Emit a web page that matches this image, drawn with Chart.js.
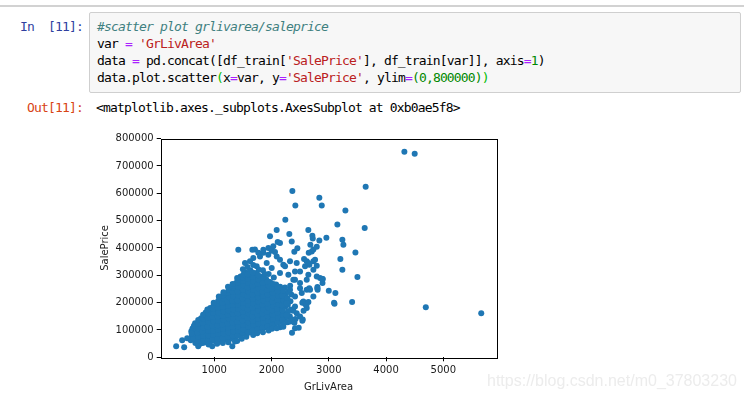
<!DOCTYPE html>
<html>
<head>
<meta charset="utf-8">
<script src="https://cdn.jsdelivr.net/npm/chart.js@4.4.1/dist/chart.umd.min.js"></script>
<style>
  html, body { margin: 0; padding: 0; background: #fff; }
  body { width: 744px; height: 400px; position: relative; overflow: hidden; }
  .rule { position: absolute; left: 0; top: 5px; width: 744px; height: 2px; background: #d2d2d2; }
  .mono { font-family: "DejaVu Sans Mono", monospace; font-size: 13px; letter-spacing: -0.83px; line-height: 17px; white-space: pre; }
  .prompt { position: absolute; left: 10px; width: 73px; text-align: right; }
  .in  { top: 18px; color: #303f9f; }
  .out { top: 99px; color: #d84315; }
  .cell { position: absolute; left: 89px; top: 12px; width: 650px; height: 79px; background: #f7f7f7; border: 1px solid #cfcfcf; border-radius: 2px; }
  .code { position: absolute; left: 97px; top: 18px; color: #000; }
  .result { position: absolute; left: 96px; top: 99px; color: #000; }
  .cm { color: #408080; font-style: italic; }
  .op { color: #aa22ff; }
  .st { color: #ba2121; }
  .nu { color: #008800; }
  .br { color: #00bb00; }
  #plot { position: absolute; left: 95px; top: 128px; width: 420px; height: 270px; }
  .mark { position: absolute; left: 487px; top: 372px; font-family: "Liberation Sans", Arial, sans-serif; font-size: 16px; color: #ececec; z-index: 2; }
</style>
</head>
<body>
<div class="rule"></div>
<div class="mono prompt in">In  [11]:</div>
<div class="cell"></div>
<div class="mono code"><span class="cm">#scatter plot grlivarea/saleprice</span>
var <span class="op">=</span> <span class="st">'GrLivArea'</span>
data <span class="op">=</span> pd.concat([df_train[<span class="st">'SalePrice'</span>], df_train[var]], axis<span class="op">=</span><span class="nu">1</span>)
data.plot.scatter<span class="br">(</span>x<span class="op">=</span>var, y<span class="op">=</span><span class="st">'SalePrice'</span>, ylim<span class="op">=</span><span class="nu">(0,800000)</span><span class="br">)</span></div>
<div class="mono prompt out">Out[11]:</div>
<div class="mono result">&lt;matplotlib.axes._subplots.AxesSubplot at 0xb0ae5f8&gt;</div>
<div id="plot"><canvas id="scatterChart" width="420" height="270"></canvas></div>
<div class="mark">https://blog.csdn.net/m0_37803230</div>

<script>
// ─────────────────────────────────────────────
// DATA  [GrLivArea, SalePrice]
// ─────────────────────────────────────────────
var xTicks = [1000, 2000, 3000, 4000, 5000];
var yTicks = [0, 100000, 200000, 300000, 400000, 500000, 600000, 700000, 800000];

// the solid body of the cloud
var mainCloud = [
    [590,62000],[610,78000],[600,95000],[620,105000],
    [670,52000],[690,68000],[675,85000],[685,101000],[680,117000],[665,125000],
    [750,50000],[770,64000],[760,80000],[745,96000],[765,112000],[755,128000],[770,143000],
    [840,55000],[860,70000],[850,86000],[835,102000],[855,118000],[845,134000],[860,150000],[850,164000],
    [930,58000],[950,73000],[940,89000],[925,105000],[945,121000],[935,137000],[955,152000],[940,167000],[930,180000],
    [1010,60000],[1030,76000],[1020,92000],[1005,108000],[1025,124000],[1015,140000],[1035,155000],[1020,170000],[1010,185000],[1030,196000],
    [1100,62000],[1120,78000],[1110,94000],[1095,110000],[1115,126000],[1105,142000],[1125,158000],[1110,174000],[1100,190000],[1120,205000],[1105,213000],
    [1190,66000],[1210,82000],[1200,98000],[1185,114000],[1205,130000],[1195,146000],[1215,162000],[1200,178000],[1190,194000],[1210,210000],[1195,226000],
    [1280,68000],[1300,85000],[1290,101000],[1275,117000],[1295,133000],[1285,149000],[1305,165000],[1290,181000],[1280,197000],[1300,213000],[1285,229000],[1295,246000],
    [1360,72000],[1380,88000],[1370,104000],[1355,120000],[1375,136000],[1365,152000],[1385,168000],[1370,184000],[1360,200000],[1380,216000],[1365,232000],[1375,248000],[1360,264000],[1380,272000],
    [1450,80000],[1470,95000],[1460,111000],[1445,127000],[1465,143000],[1455,159000],[1475,175000],[1460,191000],[1450,207000],[1470,223000],[1455,239000],[1465,255000],[1450,271000],[1470,285000],[1460,296000],
    [1540,88000],[1560,104000],[1550,120000],[1535,136000],[1555,152000],[1545,168000],[1565,184000],[1550,200000],[1540,216000],[1560,232000],[1545,248000],[1555,264000],[1540,280000],[1560,295000],[1550,310000],
    [1620,95000],[1640,110000],[1630,126000],[1615,142000],[1635,158000],[1625,174000],[1645,190000],[1630,206000],[1620,222000],[1640,238000],[1625,254000],[1635,270000],[1620,286000],[1645,302000],[1630,318000],
    [1710,100000],[1730,116000],[1720,132000],[1705,148000],[1725,164000],[1715,180000],[1735,196000],[1720,212000],[1710,228000],[1730,244000],[1715,260000],[1725,276000],[1710,292000],[1735,308000],
    [1800,104000],[1820,120000],[1810,136000],[1795,152000],[1815,168000],[1805,184000],[1825,200000],[1810,216000],[1800,232000],[1820,248000],[1805,264000],[1815,280000],[1800,296000],
    [1890,110000],[1910,126000],[1900,142000],[1885,158000],[1905,174000],[1895,190000],[1915,206000],[1900,222000],[1890,238000],[1910,254000],[1895,270000],[1905,286000],
    [1970,115000],[1990,131000],[1980,147000],[1965,163000],[1985,179000],[1975,195000],[1995,211000],[1980,227000],[1970,243000],[1990,259000],[1975,275000],
    [2060,122000],[2080,138000],[2070,154000],[2055,170000],[2075,186000],[2065,202000],[2085,218000],[2070,234000],[2060,250000],[2080,266000],
    [2150,130000],[2170,146000],[2160,162000],[2145,178000],[2165,194000],[2155,210000],[2175,226000],[2160,242000],[2150,258000],
    [2230,140000],[2250,160000],[2240,185000],[2225,210000],[2245,232000],[2235,255000],
    [2320,150000],[2340,175000],[2330,205000],[2345,230000],[2325,262000]
];

// points sitting in between the ones above, so the cloud reads as one blob
var cloudFill = [
    [635,70000],[640,87000],[630,103000],[645,115000],
    [715,58000],[720,74000],[710,90000],[725,106000],[715,122000],[720,136000],
    [800,52000],[810,62000],[805,78000],[795,94000],[815,110000],[800,126000],[810,142000],[805,156000],
    [890,60000],[900,80000],[895,96000],[885,112000],[905,128000],[890,144000],[900,160000],[895,174000],
    [975,66000],[985,82000],[980,98000],[970,115000],[990,131000],[975,147000],[985,162000],[980,178000],[990,190000],
    [1060,68000],[1070,85000],[1065,101000],[1055,117000],[1075,133000],[1060,149000],[1070,164000],[1065,180000],[1055,196000],[1070,207000],
    [1150,70000],[1160,88000],[1155,104000],[1145,120000],[1165,136000],[1150,152000],[1160,168000],[1155,184000],[1145,200000],[1165,216000],[1150,226000],
    [1240,74000],[1250,92000],[1245,108000],[1235,124000],[1255,140000],[1240,156000],[1250,172000],[1245,188000],[1235,204000],[1255,220000],[1240,236000],[1250,246000],
    [1325,78000],[1335,95000],[1330,111000],[1320,127000],[1340,143000],[1325,159000],[1335,175000],[1330,191000],[1320,207000],[1340,223000],[1325,239000],[1335,255000],[1330,262000],
    [1410,80000],[1420,97000],[1415,113000],[1405,129000],[1425,145000],[1410,161000],[1420,177000],[1415,193000],[1405,209000],[1425,225000],[1410,241000],[1420,257000],[1415,273000],[1410,284000],
    [1500,86000],[1510,103000],[1505,119000],[1495,135000],[1515,151000],[1500,167000],[1510,183000],[1505,199000],[1495,215000],[1515,231000],[1500,247000],[1510,263000],[1505,279000],[1500,292000],[1510,303000],
    [1585,93000],[1595,112000],[1590,128000],[1580,144000],[1600,160000],[1585,176000],[1595,192000],[1590,208000],[1580,224000],[1600,240000],[1585,256000],[1595,272000],[1590,288000],[1585,304000],
    [1670,98000],[1680,118000],[1675,134000],[1665,150000],[1685,166000],[1670,182000],[1680,198000],[1675,214000],[1665,230000],[1685,246000],[1670,262000],[1680,278000],[1675,294000],[1670,310000],
    [1760,103000],[1770,124000],[1765,140000],[1755,156000],[1775,172000],[1760,188000],[1770,204000],[1765,220000],[1755,236000],[1775,252000],[1760,268000],[1770,284000],[1765,300000],
    [1845,108000],[1855,128000],[1850,144000],[1840,160000],[1860,176000],[1845,192000],[1855,208000],[1850,224000],[1840,240000],[1860,256000],[1845,272000],[1855,290000],
    [1930,113000],[1940,134000],[1935,150000],[1925,166000],[1945,182000],[1930,198000],[1940,214000],[1935,230000],[1925,246000],[1945,262000],[1930,278000],
    [2015,118000],[2025,140000],[2020,156000],[2010,172000],[2030,188000],[2015,204000],[2025,220000],[2020,236000],[2010,252000],[2030,268000],
    [2105,126000],[2115,146000],[2110,162000],[2100,178000],[2120,194000],[2105,210000],[2115,226000],[2110,242000],[2100,258000],
    [2190,136000],[2200,155000],[2195,172000],[2185,190000],[2205,208000],[2190,226000],[2200,244000],
    [2280,148000],[2290,168000],[2285,192000],[2275,216000],[2295,240000]
];

// loose points around the edges of the cloud
var cloudEdge = [
    [335,40000],[440,62000],[475,37000],[528,70000],[605,88000],[720,40000],[965,40000],[1315,40000],
    [1245,55000],[1362,58000],[1400,60000],[1480,68000],[1560,75000],[1680,82000],[1750,88000],
    [1850,92000],[1950,98000],[2010,104000],[1600,90000],[1150,52000],[1050,50000],[900,47000],
    [2150,110000],[2280,128000],[2206,112000],[2091,106000],[2206,119000],
    [880,175000],[990,200000],[1080,222000],[1160,238000],[1240,258000],[1320,268000],[1400,290000],
    [1500,322000],[1580,330000],[1537,345000],[1624,351000],[1682,363000],[1741,333000],[1711,394000],
    [1799,369000],[1857,382000],[1944,375000],[1916,345000],[2003,327000],[2031,406000],[2091,369000],
    [2148,357000],[2206,339000],[2148,308000],[2294,302000],[1850,318000],[1950,305000],[2040,292000],
    [1680,338000],[1780,320000],[1880,305000],[1770,382000],[1857,393000],[1945,400000],[2003,390000],[2061,385000]
];

// the sparser right-hand side
var rightSide = [
    [2323,351000],[2236,333000],[2440,345000],[2410,314000],[2498,314000],[2586,333000],[2615,351000],
    [2661,339000],[2643,345000],[2731,351000],[2760,357000],[2731,320000],[2643,302000],[2848,290000],
    [2790,296000],[2790,335000],[2888,286000],[2890,272000],[2800,253000],[2805,247000],[2615,247000],
    [2673,247000],[2498,253000],[2498,272000],[2381,284000],[2410,284000],[2615,284000],[2323,247000],
    [2410,222000],[2528,235000],[2731,222000],[2556,204000],[2538,200000],[2590,194000],[2615,180000],
    [2265,198000],[2410,186000],[2440,161000],[2265,155000],[2498,149000],[2538,134000],[2353,137000],
    [2330,131000],[2410,106000],[2358,90000],[2475,108000],[2545,138000],[2560,170000],[2400,126000],
    [2380,170000],[2420,140000],[2610,192000],[2644,202000],[2660,253000],[2802,257000],[2895,286000]
];

// expensive / large houses
var outliers = [
    [4320,752000],[4500,745000],[3644,624000],[2364,608000],[2835,584000],[2416,555000],[2877,555000],
    [3290,537000],[2241,503000],[3150,486000],[3627,473000],[2090,466000],[2643,466000],[2311,451000],
    [1974,443000],[2713,445000],[2720,435000],[2958,437000],[2353,424000],[2835,427000],[3237,430000],
    [3255,412000],[2108,422000],[2148,418000],[2678,412000],[2790,404000],[2451,399000],[2398,386000],
    [2703,387000],[2650,382000],[2568,360000],[2731,394000],[1420,393000],[1665,393000],[3465,383000],
    [3202,360000],[3237,320000],[3500,294000],[3000,243000],[3115,235000],[3092,200000],[3100,196000],
    [3407,202000],[4694,183000],[5662,161000]
];

// ─────────────────────────────────────────────
// CHART
// ─────────────────────────────────────────────
var allPoints = mainCloud.concat(cloudFill, cloudEdge, rightSide, outliers).map(function (p) {
    return { x: p[0], y: p[1] };
});

var tickFont  = { family: 'DejaVu Sans', size: 10 };
var textColor = '#1a1a1a';

// matplotlib style box around the axes
var frame = {
    id: 'frame',
    afterDatasetsDraw: function (chart) {
        var a = chart.chartArea, g = chart.ctx;
        g.save();
        g.strokeStyle = '#000';
        g.lineWidth = 1;
        g.strokeRect(Math.round(a.left) + 0.5, Math.round(a.top) + 0.5,
                     Math.round(a.right - a.left), Math.round(a.bottom - a.top));
        g.restore();
    }
};

var pad = { left: 0, top: 6, right: 18, bottom: 0 };

var chart = new Chart(document.getElementById('scatterChart').getContext('2d'), {
    type: 'scatter',
    data: {
        datasets: [{
            data:             allPoints,
            backgroundColor:  '#1f77b4',
            borderWidth:      0,
            pointRadius:      3,
            pointHoverRadius: 3
        }]
    },
    options: {
        responsive: false,
        animation:  false,
        events:     [],
        layout:     { padding: pad },
        plugins: {
            legend:  { display: false },
            tooltip: { enabled: false }
        },
        scales: {
            x: {
                type: 'linear',
                min: 65,
                max: 5925,
                afterBuildTicks: function (axis) {
                    axis.ticks = xTicks.map(function (v) { return { value: v }; });
                },
                grid:   { drawOnChartArea: false, tickLength: 4, color: '#000' },
                border: { display: false },
                ticks:  {
                    color: textColor, font: tickFont, padding: 3, maxRotation: 0, autoSkip: false,
                    callback: function (v) { return String(v); }
                },
                title:  { display: true, text: 'GrLivArea', color: textColor, font: tickFont, padding: { top: 2, bottom: 0 } }
            },
            y: {
                type: 'linear',
                min: 0,
                max: 800000,
                afterBuildTicks: function (axis) {
                    axis.ticks = yTicks.map(function (v) { return { value: v }; });
                },
                grid:   { drawOnChartArea: false, tickLength: 4, color: '#000' },
                border: { display: false },
                ticks:  {
                    color: textColor, font: tickFont, padding: 3, autoSkip: false,
                    callback: function (v) { return String(v); }
                },
                title:  { display: true, text: 'SalePrice', color: textColor, font: tickFont, padding: { top: 0, bottom: 1 } }
            }
        }
    },
    plugins: [frame]
});

// nudge the padding so the axes box sits where it does in the screenshot
var want = { left: 65.7, top: 11.3, right: 401.3, bottom: 229.3 };
for (var i = 0; i < 2; i++) {
    var ca = chart.chartArea;
    pad.left   += want.left - ca.left;
    pad.top    += want.top - ca.top;
    pad.right  += ca.right - want.right;
    pad.bottom += ca.bottom - want.bottom;
    chart.update('none');
}
</script>
</body>
</html>
